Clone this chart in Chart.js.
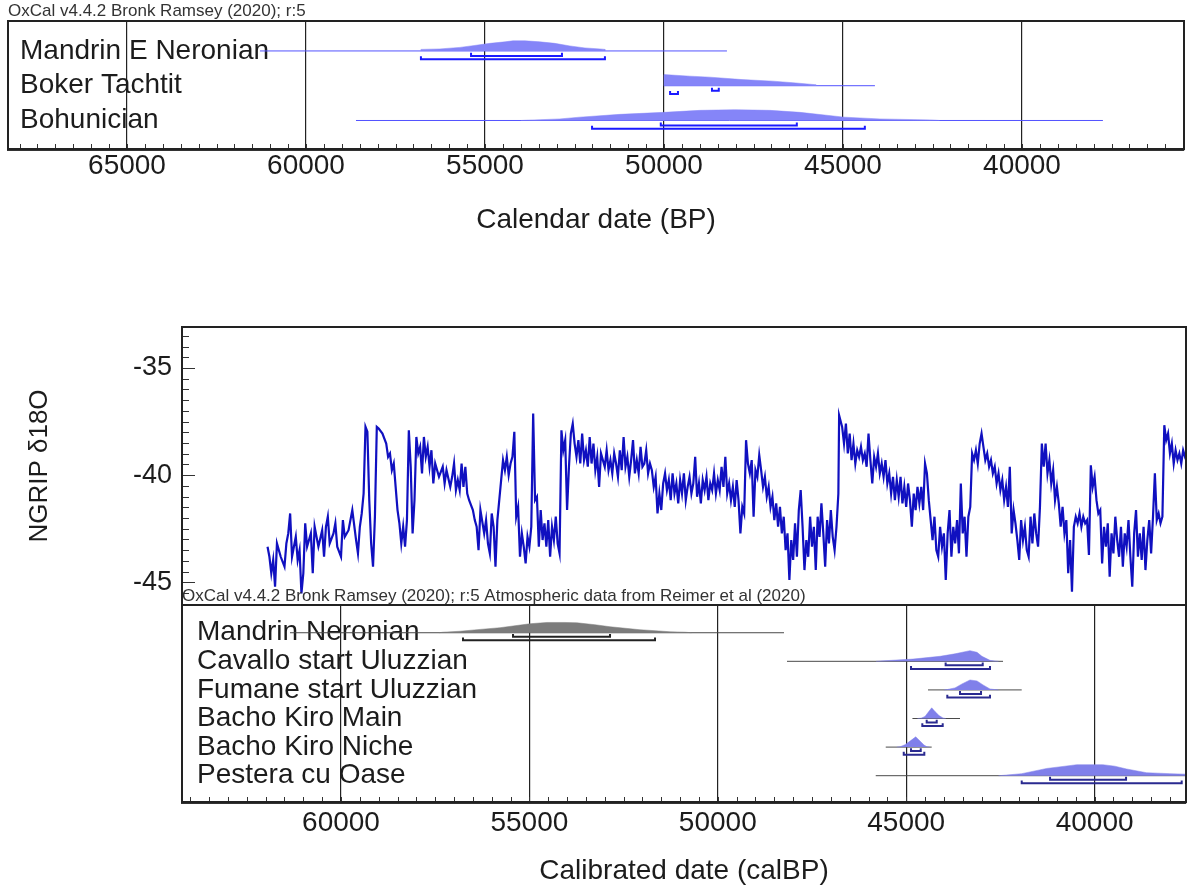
<!DOCTYPE html>
<html>
<head>
<meta charset="utf-8">
<script src="https://cdn.jsdelivr.net/npm/chart.js@4.4.1/dist/chart.umd.min.js"></script>
<style>
html,body{margin:0;padding:0;background:#fff;}
#wrap{position:relative;width:1187px;height:892px;overflow:hidden;background:#fff;}
canvas{position:absolute;left:0;}
#c1{top:0;z-index:1;}
#c2{top:300px;z-index:1;}
#c3{top:580px;z-index:2;}
</style>
</head>
<body>
<div id="wrap">
<canvas id="c1" width="1187" height="250"></canvas>
<canvas id="c2" width="1187" height="310"></canvas>
<canvas id="c3" width="1187" height="312"></canvas>
</div>
<script>
// ---------------- DATA ----------------
// Top OxCal panel (Calendar date BP)
const topTickValues = [65000, 60000, 55000, 50000, 45000, 40000];
const topRowNames = ['Mandrin E Neronian', 'Boker Tachtit', 'Bohunician'];
const topSpan = [[61285, 48242], [50002, 44108], [58604, 37740]];
const topDistAge = [
  [56790, 56790, 56260, 55700, 55390, 54860, 54440, 54220, 53880, 53470, 53050, 52630, 52210, 51790, 51650, 51650],
  [50000, 50000, 49280, 48720, 47820, 46960, 46400, 45760, 45760],
  [54000, 53800, 52910, 52350, 51230, 50000, 49000, 48020, 47040, 46200, 44970, 43970, 42540, 42300]
];
const topDistProb = [
  [0, .14, .18, .32, .45, .68, .82, .91, .91, .82, .68, .45, .27, .18, .14, 0],
  [0, 1, .86, .77, .55, .41, .27, .09, 0],
  [0, .03, .14, .3, .55, .73, .91, .97, .91, .73, .3, .14, .05, 0]
];
const top68 = [[55390, 52850], [48660, 48470], [50090, 46290]];
const top95 = [[56790, 51650], [49830, 49610], [52010, 44390]];

// Bottom OxCal panel (Calibrated date calBP)
const botTickValues = [60000, 55000, 50000, 45000, 40000];
const botRowNames = ['Mandrin Neronian', 'Cavallo start Uluzzian', 'Fumane start Uluzzian', 'Bacho Kiro Main', 'Bacho Kiro Niche', 'Pestera cu Oase'];
const botSpan = [[61354, 48243], [48163, 42430], [44421, 41934], [44834, 43572], [45543, 44323], [45808, 36500]];
const botDistAge = [
  [57400, 57290, 56840, 56310, 55780, 55435, 54985, 54535, 54055, 53740, 53260, 52860, 52460, 52065, 51665, 51270, 50870, 50700],
  [45800, 45695, 44820, 44100, 43705, 43307, 43120, 42990, 42776, 42643, 42550],
  [44000, 43917, 43705, 43519, 43307, 43121, 42961, 42776, 42643, 42550],
  [44700, 44607, 44501, 44421, 44323, 44235, 44129, 44023, 43950],
  [45250, 45163, 45030, 44898, 44747, 44633, 44527, 44448, 44380],
  [42550, 42430, 41934, 41270, 40785, 40475, 39781, 39463, 39152, 38621, 38002, 37559, 37000]
];
const botDistProb = [
  [0, .05, .14, .31, .47, .63, .84, .96, .96, .93, .75, .56, .42, .28, .19, .09, .05, 0],
  [0, .03, .21, .47, .7, 1, .84, .47, .09, .03, 0],
  [0, .03, .19, .56, .93, .84, .47, .09, .03, 0],
  [0, .03, .19, .56, 1, .65, .28, .05, 0],
  [0, .03, .23, .56, .96, .56, .19, .03, 0],
  [0, .03, .19, .68, .89, 1.03, 1.03, .89, .63, .28, .19, .14, .09]
];
const bot68 = [[55435, 52860], [43953, 42969], [43572, 43014], [44456, 44190], [44872, 44614], [41182, 39165]];
const bot95 = [[56762, 51666], [44872, 42776], [43909, 42776], [44572, 44031], [45065, 44519], [41934, 37688]];

// NGRIP d18O record
const ngripTickValues = [-45, -40, -35];
const ngripAge = [
61950,61900,61850,61800,61750,61700,61600,61500,61450,61400,61350,61300,61200,61150,61100,61050,61000,60950,60900,60800,
60750,60700,60600,60500,60450,60400,60350,60300,60200,60150,60100,60000,59950,59900,59800,59700,59600,59550,59500,59450,
59400,59350,59300,59250,59200,59150,59100,59050,59000,58900,58800,58750,58700,58650,58600,58550,58500,58450,58400,58350,
58300,58250,58200,58150,58100,58050,58000,57950,57900,57850,57800,57750,57700,57650,57600,57550,57500,57400,57300,57250,
57200,57100,57050,57000,56950,56900,56850,56800,56750,56700,56650,56600,56500,56450,56400,56350,56300,56200,56150,56100,
56050,56000,55950,55900,55850,55800,55750,55700,55650,55600,55550,55500,55450,55400,55350,55300,55250,55200,55150,55100,
55050,55000,54950,54900,54850,54800,54750,54700,54650,54600,54550,54500,54450,54400,54350,54300,54250,54200,54150,54100,
54050,54000,53950,53900,53850,53800,53750,53700,53650,53600,53550,53500,53450,53400,53350,53300,53250,53200,53150,53100,
53000,52950,52900,52850,52800,52750,52700,52650,52600,52550,52500,52450,52400,52350,52300,52250,52200,52150,52100,52050,
52000,51950,51900,51850,51800,51750,51700,51650,51600,51550,51500,51450,51400,51350,51300,51250,51200,51150,51100,51050,
51000,50950,50900,50850,50800,50750,50700,50650,50600,50550,50500,50450,50400,50350,50300,50250,50200,50150,50100,50050,
50000,49950,49900,49850,49800,49750,49700,49650,49600,49550,49500,49450,49400,49350,49300,49250,49200,49150,49100,49050,
49000,48950,48900,48850,48800,48750,48700,48650,48600,48550,48500,48450,48400,48350,48300,48250,48200,48150,48100,48050,
48000,47950,47900,47850,47800,47750,47700,47650,47600,47550,47500,47450,47400,47350,47300,47250,47200,47150,47100,47050,
47000,46950,46900,46850,46800,46780,46700,46650,46600,46550,46500,46450,46400,46350,46300,46250,46200,46150,46100,46050,
46000,45950,45900,45850,45800,45750,45700,45650,45600,45550,45500,45450,45400,45350,45300,45250,45200,45150,45100,45050,
45000,44950,44900,44850,44800,44750,44700,44650,44600,44550,44500,44450,44400,44350,44300,44250,44200,44150,44100,44050,
44000,43950,43900,43850,43800,43750,43700,43650,43600,43550,43500,43450,43400,43350,43300,43250,43200,43150,43100,43050,
43000,42950,42900,42850,42800,42750,42700,42650,42600,42550,42500,42450,42400,42350,42300,42250,42200,42150,42100,42050,
42000,41950,41900,41850,41800,41750,41700,41650,41600,41550,41500,41450,41400,41350,41300,41250,41200,41150,41100,41050,
41000,40950,40900,40850,40800,40750,40700,40650,40600,40550,40500,40450,40400,40350,40300,40250,40200,40150,40100,40050,
40000,39950,39900,39850,39800,39750,39700,39650,39600,39550,39500,39450,39400,39350,39300,39250,39200,39150,39100,39050,
39000,38950,38900,38850,38800,38750,38700,38650,38600,38550,38500,38450,38400,38350,38300,38250,38200,38150,38100,38050,
38000,37950,37900,37850,37800,37750,37700,37650,37600,37550
];
const ngripD18O = [
-43.34,-43.81,-44.58,-43.96,-45.21,-43.19,-43.81,-44.27,-43.19,-42.72,-41.79,-43.81,-42.88,-43.96,-43.50,-45.52,-44.58,-42.25,-43.34,-42.72,
-44.58,-42.41,-43.34,-42.57,-43.81,-42.41,-41.94,-43.19,-42.72,-42.25,-43.34,-43.81,-42.10,-42.88,-42.57,-41.63,-43.03,-43.65,-42.41,-41.79,
-40.86,-37.75,-37.98,-41.17,-43.19,-44.27,-41.94,-37.75,-37.83,-38.06,-38.53,-39.15,-38.99,-39.77,-39.46,-40.55,-41.63,-42.25,-43.19,-42.41,
-43.34,-42.10,-37.91,-39.61,-42.72,-41.17,-38.22,-38.99,-38.68,-39.92,-38.22,-39.15,-38.68,-39.61,-38.84,-40.39,-39.46,-40.08,-39.61,-40.39,
-39.77,-40.55,-40.08,-39.46,-40.70,-40.23,-40.70,-39.46,-40.55,-39.61,-40.86,-41.17,-41.63,-42.10,-42.41,-43.50,-41.63,-42.72,-42.10,-43.19,
-43.65,-41.79,-42.41,-44.27,-42.10,-41.17,-40.23,-39.30,-39.77,-39.15,-40.00,-39.46,-39.15,-37.98,-41.94,-41.48,-43.81,-42.72,-43.34,-44.12,
-42.88,-43.34,-42.41,-37.13,-41.17,-41.01,-43.34,-41.63,-43.03,-42.25,-43.34,-42.10,-43.81,-42.41,-43.03,-41.94,-43.19,-43.65,-37.91,-38.84,
-38.37,-41.63,-39.61,-38.06,-37.60,-38.53,-39.15,-38.37,-39.46,-38.06,-39.30,-38.84,-39.61,-38.22,-39.46,-38.53,-39.77,-39.15,-40.55,-38.99,
-39.61,-38.84,-39.77,-39.30,-39.92,-38.99,-39.46,-40.08,-38.84,-39.77,-38.22,-39.61,-39.15,-40.08,-39.30,-38.37,-39.92,-39.30,-39.92,-38.68,
-39.61,-39.46,-38.84,-39.92,-39.46,-39.77,-40.55,-40.08,-41.79,-40.86,-41.63,-40.39,-39.92,-40.70,-40.23,-41.17,-39.92,-40.86,-40.39,-41.32,
-40.23,-40.86,-39.92,-41.17,-40.55,-40.08,-40.86,-40.39,-39.15,-41.01,-40.39,-41.32,-40.23,-40.70,-40.08,-41.17,-40.39,-40.70,-39.92,-40.86,
-40.23,-40.70,-39.61,-40.55,-39.15,-40.86,-40.39,-41.17,-40.55,-41.48,-40.23,-41.17,-42.72,-41.48,-41.79,-38.37,-39.46,-39.92,-39.30,-41.94,
-39.77,-40.08,-39.07,-39.77,-40.55,-40.08,-41.01,-40.55,-41.48,-41.01,-42.10,-41.32,-42.41,-41.48,-42.72,-41.94,-43.50,-42.72,-44.89,-43.03,
-43.96,-42.25,-43.81,-41.63,-40.70,-42.41,-44.43,-43.03,-43.81,-41.94,-43.34,-42.41,-44.43,-41.94,-42.88,-41.32,-42.72,-44.27,-42.10,-43.19,
-41.63,-42.88,-43.50,-42.41,-40.86,-37.21,-37.75,-38.53,-37.60,-38.99,-38.06,-39.30,-38.53,-39.46,-38.84,-39.15,-38.68,-39.30,-38.99,-39.61,
-38.06,-39.30,-40.39,-39.15,-39.61,-38.99,-39.92,-39.46,-40.08,-39.30,-40.39,-39.92,-40.86,-40.08,-41.17,-40.23,-41.01,-40.08,-41.32,-40.55,
-41.48,-40.39,-41.17,-42.41,-40.86,-41.63,-40.55,-41.32,-40.55,-41.63,-39.46,-39.92,-41.17,-42.10,-43.03,-41.94,-43.50,-43.81,-42.41,-43.34,
-42.72,-44.89,-42.72,-41.63,-43.81,-42.41,-43.19,-42.10,-43.65,-40.39,-42.72,-41.94,-43.81,-41.94,-41.48,-38.99,-39.30,-38.84,-39.46,-38.53,
-38.06,-38.68,-39.30,-38.99,-39.61,-39.30,-39.92,-39.61,-40.39,-39.92,-40.70,-40.23,-41.17,-40.55,-41.48,-39.61,-42.72,-41.63,-42.25,-43.03,
-43.96,-42.10,-43.03,-42.41,-43.50,-43.81,-41.94,-43.19,-41.79,-42.72,-43.34,-41.48,-38.53,-39.61,-38.53,-39.92,-39.30,-40.39,-39.77,-41.17,
-40.55,-41.32,-42.41,-41.48,-42.72,-42.10,-44.58,-43.03,-45.44,-42.41,-41.94,-42.25,-41.79,-42.41,-41.94,-42.25,-42.10,-43.73,-39.54,-40.55,
-40.08,-41.17,-41.79,-41.63,-44.12,-42.41,-43.34,-42.25,-44.74,-42.72,-43.65,-41.94,-43.03,-43.81,-42.41,-44.27,-42.72,-43.34,-42.10,-43.81,
-45.21,-42.72,-41.63,-43.81,-42.72,-43.96,-42.41,-44.43,-43.03,-42.10,-43.65,-41.94,-39.92,-42.10,-41.79,-42.25,-41.94,-37.67,-38.37,-38.06,
-38.99,-38.53,-39.46,-38.84,-39.30,-38.99,-39.46,-38.84,-39.15,-38.99
];

// ---------------- RENDERING ----------------
const FONT = "'Liberation Sans', Arial, Helvetica, sans-serif";
const TXT = '#1c1c1c';

const framePlugin = {
  id: 'frame',
  beforeDatasetsDraw(chart, args, o) {
    const {ctx, chartArea: a, scales} = chart;
    ctx.save();
    ctx.strokeStyle = '#333';
    ctx.lineWidth = 1;
    if (o.xStep) {
      const s = scales.x;
      const lo = Math.ceil(s.min / o.xStep) * o.xStep;
      for (let v = lo; v <= s.max; v += o.xStep) {
        const p = Math.round(s.getPixelForValue(v)) + 0.5;
        ctx.beginPath(); ctx.moveTo(p, a.bottom); ctx.lineTo(p, a.bottom - o.xLen); ctx.stroke();
      }
    }
    if (o.yStep) {
      const s = scales.y;
      const lo = Math.ceil(s.min / o.yStep) * o.yStep;
      for (let v = lo; v <= s.max + 1e-9; v += o.yStep) {
        const p = Math.round(s.getPixelForValue(v)) + 0.5;
        const r = v / o.yMajor;
        const major = Math.abs(r - Math.round(r)) < 1e-6;
        ctx.beginPath(); ctx.moveTo(a.left, p); ctx.lineTo(a.left + (major ? o.yLenMajor : o.yLen), p); ctx.stroke();
      }
    }
    ctx.restore();
  },
  afterDatasetsDraw(chart, args, o) {
    const {ctx, chartArea: a} = chart;
    ctx.save();
    ctx.strokeStyle = '#222';
    ctx.lineWidth = o.width || 2;
    ctx.strokeRect(a.left, a.top, a.right - a.left, a.bottom - a.top);
    if (o.header) {
      ctx.fillStyle = '#333';
      ctx.font = '17px ' + FONT;
      ctx.textAlign = 'left';
      ctx.textBaseline = 'alphabetic';
      ctx.fillText(o.header, a.left, a.top - o.headerGap);
    }
    ctx.restore();
  }
};
Chart.register(framePlugin);

function noPad(s) { s.paddingTop = 0; s.paddingBottom = 0; s.paddingLeft = 0; s.paddingRight = 0; }

function oxDatasets(names, span, ages, probs, r68, r95, st) {
  const ds = [];
  names.forEach((n, i) => {
    ds.push({
      data: ages[i].map((a, k) => ({x: a, y: i - probs[i][k] * st.peak})),
      fill: {value: i}, backgroundColor: st.fill[i], borderColor: st.fill[i],
      borderWidth: 0.5, pointRadius: 0, tension: 0
    });
    ds.push({
      data: [{x: span[i][0], y: i}, {x: span[i][1], y: i}],
      borderColor: st.line, borderWidth: 1, pointRadius: 0, fill: false
    });
    [[r68, st.o68], [r95, st.o95]].forEach(([r, off]) => {
      const y = i + off;
      ds.push({
        data: [{x: r[i][0], y: y - st.tick}, {x: r[i][0], y: y}, {x: r[i][1], y: y}, {x: r[i][1], y: y - st.tick}],
        borderColor: st.bracket[i], borderWidth: 2, pointRadius: 0, fill: false
      });
    });
  });
  return ds;
}

const commonPlugins = {legend: {display: false}, tooltip: {enabled: false}};

// --- Top OxCal chart
new Chart(document.getElementById('c1'), {
  type: 'line',
  data: {datasets: oxDatasets(topRowNames, topSpan, topDistAge, topDistProb, top68, top95, {
    peak: 0.32, o68: 0.145, o95: 0.24, tick: 0.09,
    fill: topRowNames.map(() => '#8585f8'), line: '#5252ff', bracket: topRowNames.map(() => '#1a1aff')
  })},
  options: {
    responsive: false, animation: false, events: [],
    layout: {autoPadding: false, padding: {top: 21, left: 0, right: 3, bottom: 0}},
    plugins: Object.assign({}, commonPlugins, {
      frame: {xStep: 500, xLen: 5, width: 2, header: 'OxCal v4.4.2 Bronk Ramsey (2020); r:5', headerGap: 5}
    }),
    scales: {
      x: {type: 'linear', reverse: true, min: 35475, max: 68324,
        afterFit: s => { s.height = 101; noPad(s); },
        afterBuildTicks: s => { s.ticks = topTickValues.map(v => ({value: v})); },
        ticks: {autoSkip: false, maxRotation: 0, padding: 0, font: {family: FONT, size: 28}, color: TXT, callback: v => String(v)},
        grid: {color: '#222', lineWidth: 1.2, drawTicks: false},
        border: {display: true, color: '#333', width: 3},
        title: {display: true, text: 'Calendar date (BP)', font: {family: FONT, size: 28}, color: TXT, padding: {top: 0, bottom: 13}}
      },
      y: {type: 'linear', reverse: true, min: -0.861, max: 2.82,
        afterFit: s => { s.width = 8; noPad(s); },
        afterBuildTicks: s => { s.ticks = topRowNames.map((_, i) => ({value: i})); },
        ticks: {mirror: true, padding: 12, autoSkip: false, font: {family: FONT, size: 28}, color: TXT,
          callback: v => topRowNames[Math.round(v)]},
        grid: {display: false, drawTicks: false},
        border: {display: true, color: '#222', width: 2}
      }
    }
  }
});

// --- NGRIP chart
new Chart(document.getElementById('c2'), {
  type: 'line',
  data: {datasets: [{
    data: ngripAge.map((a, i) => ({x: a, y: ngripD18O[i]})),
    borderColor: '#1010c0', borderWidth: 2.2, pointRadius: 0, tension: 0, fill: false
  }]},
  options: {
    responsive: false, animation: false, events: [],
    layout: {autoPadding: false, padding: {top: 27, left: 0, right: 1, bottom: 5}},
    plugins: Object.assign({}, commonPlugins, {
      frame: {yStep: 0.5, yMajor: 5, yLen: 7, yLenMajor: 13, width: 2}
    }),
    scales: {
      x: {type: 'linear', reverse: true, min: 37574, max: 64220, display: false,
        afterFit: s => { noPad(s); }},
      y: {type: 'linear', min: -46.06, max: -33.09,
        afterFit: s => { s.width = 182; noPad(s); },
        afterBuildTicks: s => { s.ticks = ngripTickValues.map(v => ({value: v})); },
        ticks: {autoSkip: false, padding: 10, font: {family: FONT, size: 27}, color: TXT, callback: v => String(v)},
        grid: {display: false, drawTicks: false},
        border: {display: true, color: '#222', width: 2},
        title: {display: true, text: 'NGRIP δ18O', font: {family: FONT, size: 26}, color: TXT, padding: {top: 24, bottom: 0}}
      }
    }
  }
});

// --- Bottom OxCal chart
const botFill = botRowNames.map((n, i) => i === 0 ? '#7c7c7c' : '#8080ea');
const botBracket = botRowNames.map((n, i) => i === 0 ? '#222222' : '#2a2a90');
new Chart(document.getElementById('c3'), {
  type: 'line',
  data: {datasets: oxDatasets(botRowNames, botSpan, botDistAge, botDistProb, bot68, bot95, {
    peak: 0.374, o68: 0.14, o95: 0.265, tick: 0.1,
    fill: botFill, line: '#4a4a4a', bracket: botBracket
  })},
  options: {
    responsive: false, animation: false, events: [],
    layout: {autoPadding: false, padding: {top: 25, left: 0, right: 1, bottom: 0}},
    plugins: Object.assign({}, commonPlugins, {
      frame: {xStep: 500, xLen: 5, width: 2,
        header: 'OxCal v4.4.2 Bronk Ramsey (2020); r:5 Atmospheric data from Reimer et al (2020)', headerGap: 4}
    }),
    scales: {
      x: {type: 'linear', reverse: true, min: 37574, max: 64220,
        afterFit: s => { s.height = 90; noPad(s); },
        afterBuildTicks: s => { s.ticks = botTickValues.map(v => ({value: v})); },
        ticks: {autoSkip: false, maxRotation: 0, padding: 4, font: {family: FONT, size: 28}, color: TXT, callback: v => String(v)},
        grid: {color: '#222', lineWidth: 1.2, drawTicks: false},
        border: {display: true, color: '#333', width: 3},
        title: {display: true, text: 'Calibrated date (calBP)', font: {family: FONT, size: 28}, color: TXT, padding: {top: 0, bottom: 4}}
      },
      y: {type: 'linear', reverse: true, min: -0.97, max: 5.92,
        afterFit: s => { s.width = 182; noPad(s); },
        afterBuildTicks: s => { s.ticks = botRowNames.map((_, i) => ({value: i})); },
        ticks: {mirror: true, padding: 15, autoSkip: false, font: {family: FONT, size: 28}, color: TXT,
          callback: v => botRowNames[Math.round(v)]},
        grid: {display: false, drawTicks: false},
        border: {display: true, color: '#222', width: 2}
      }
    }
  }
});
</script>
</body>
</html>
